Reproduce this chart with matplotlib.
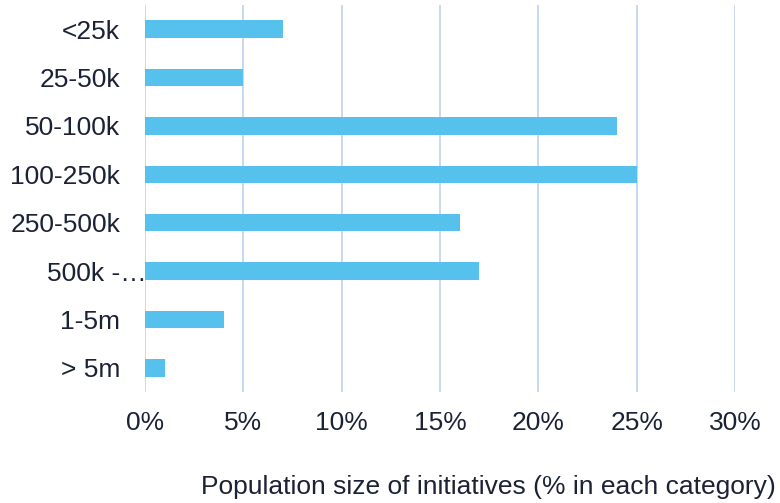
import matplotlib.pyplot as plt
import matplotlib.transforms as mtransforms
from matplotlib.ticker import FuncFormatter

# population size bands and share of initiatives (%)
categories = ['<25k', '25-50k', '50-100k', '100-250k', '250-500k', '500k -…', '1-5m', '> 5m']
shares = [7, 5, 24, 25, 16, 17, 4, 1]
xticks = [0, 5, 10, 15, 20, 25, 30]

bar_col = '#56c1ec'
grid_col = '#c9d7f0'
text_col = '#1b2235'

plt.rcParams['font.family'] = ['Liberation Sans', 'DejaVu Sans']

fig = plt.figure(figsize=(7.8, 5.03), dpi=100)
ax = fig.add_axes([145 / 780, 111 / 503, 590 / 780, 387 / 503])

Y = list(range(len(categories)))
ax.barh(Y, shares, height=0.36, color=bar_col, zorder=3)

ax.set_xlim(0, 30)
ax.set_ylim(len(categories) - 0.5, -0.5)
ax.set_xticks(xticks)
ax.xaxis.set_major_formatter(FuncFormatter(lambda v, p: '%d%%' % v))
ax.set_yticks(Y)
ax.set_yticklabels(categories)

ax.grid(axis='x', color=grid_col, linewidth=1.4, zorder=0)
for s in ax.spines.values():
    s.set_visible(False)
ax.tick_params(axis='both', length=0, labelsize=19, colors=text_col)
ax.tick_params(axis='y', pad=18)
ax.tick_params(axis='x', pad=14)

# the truncated label runs up to the axis
lbl = ax.get_yticklabels()[5]
lbl.set_transform(lbl.get_transform() + mtransforms.ScaledTranslation(27 / 100, 0, fig.dpi_scale_trans))

fig.text(488 / 780, 1 - 487 / 503, 'Population size of initiatives (% in each category)',
         ha='center', va='center', fontsize=19, color=text_col)

fig.savefig('out.png', dpi=100)
